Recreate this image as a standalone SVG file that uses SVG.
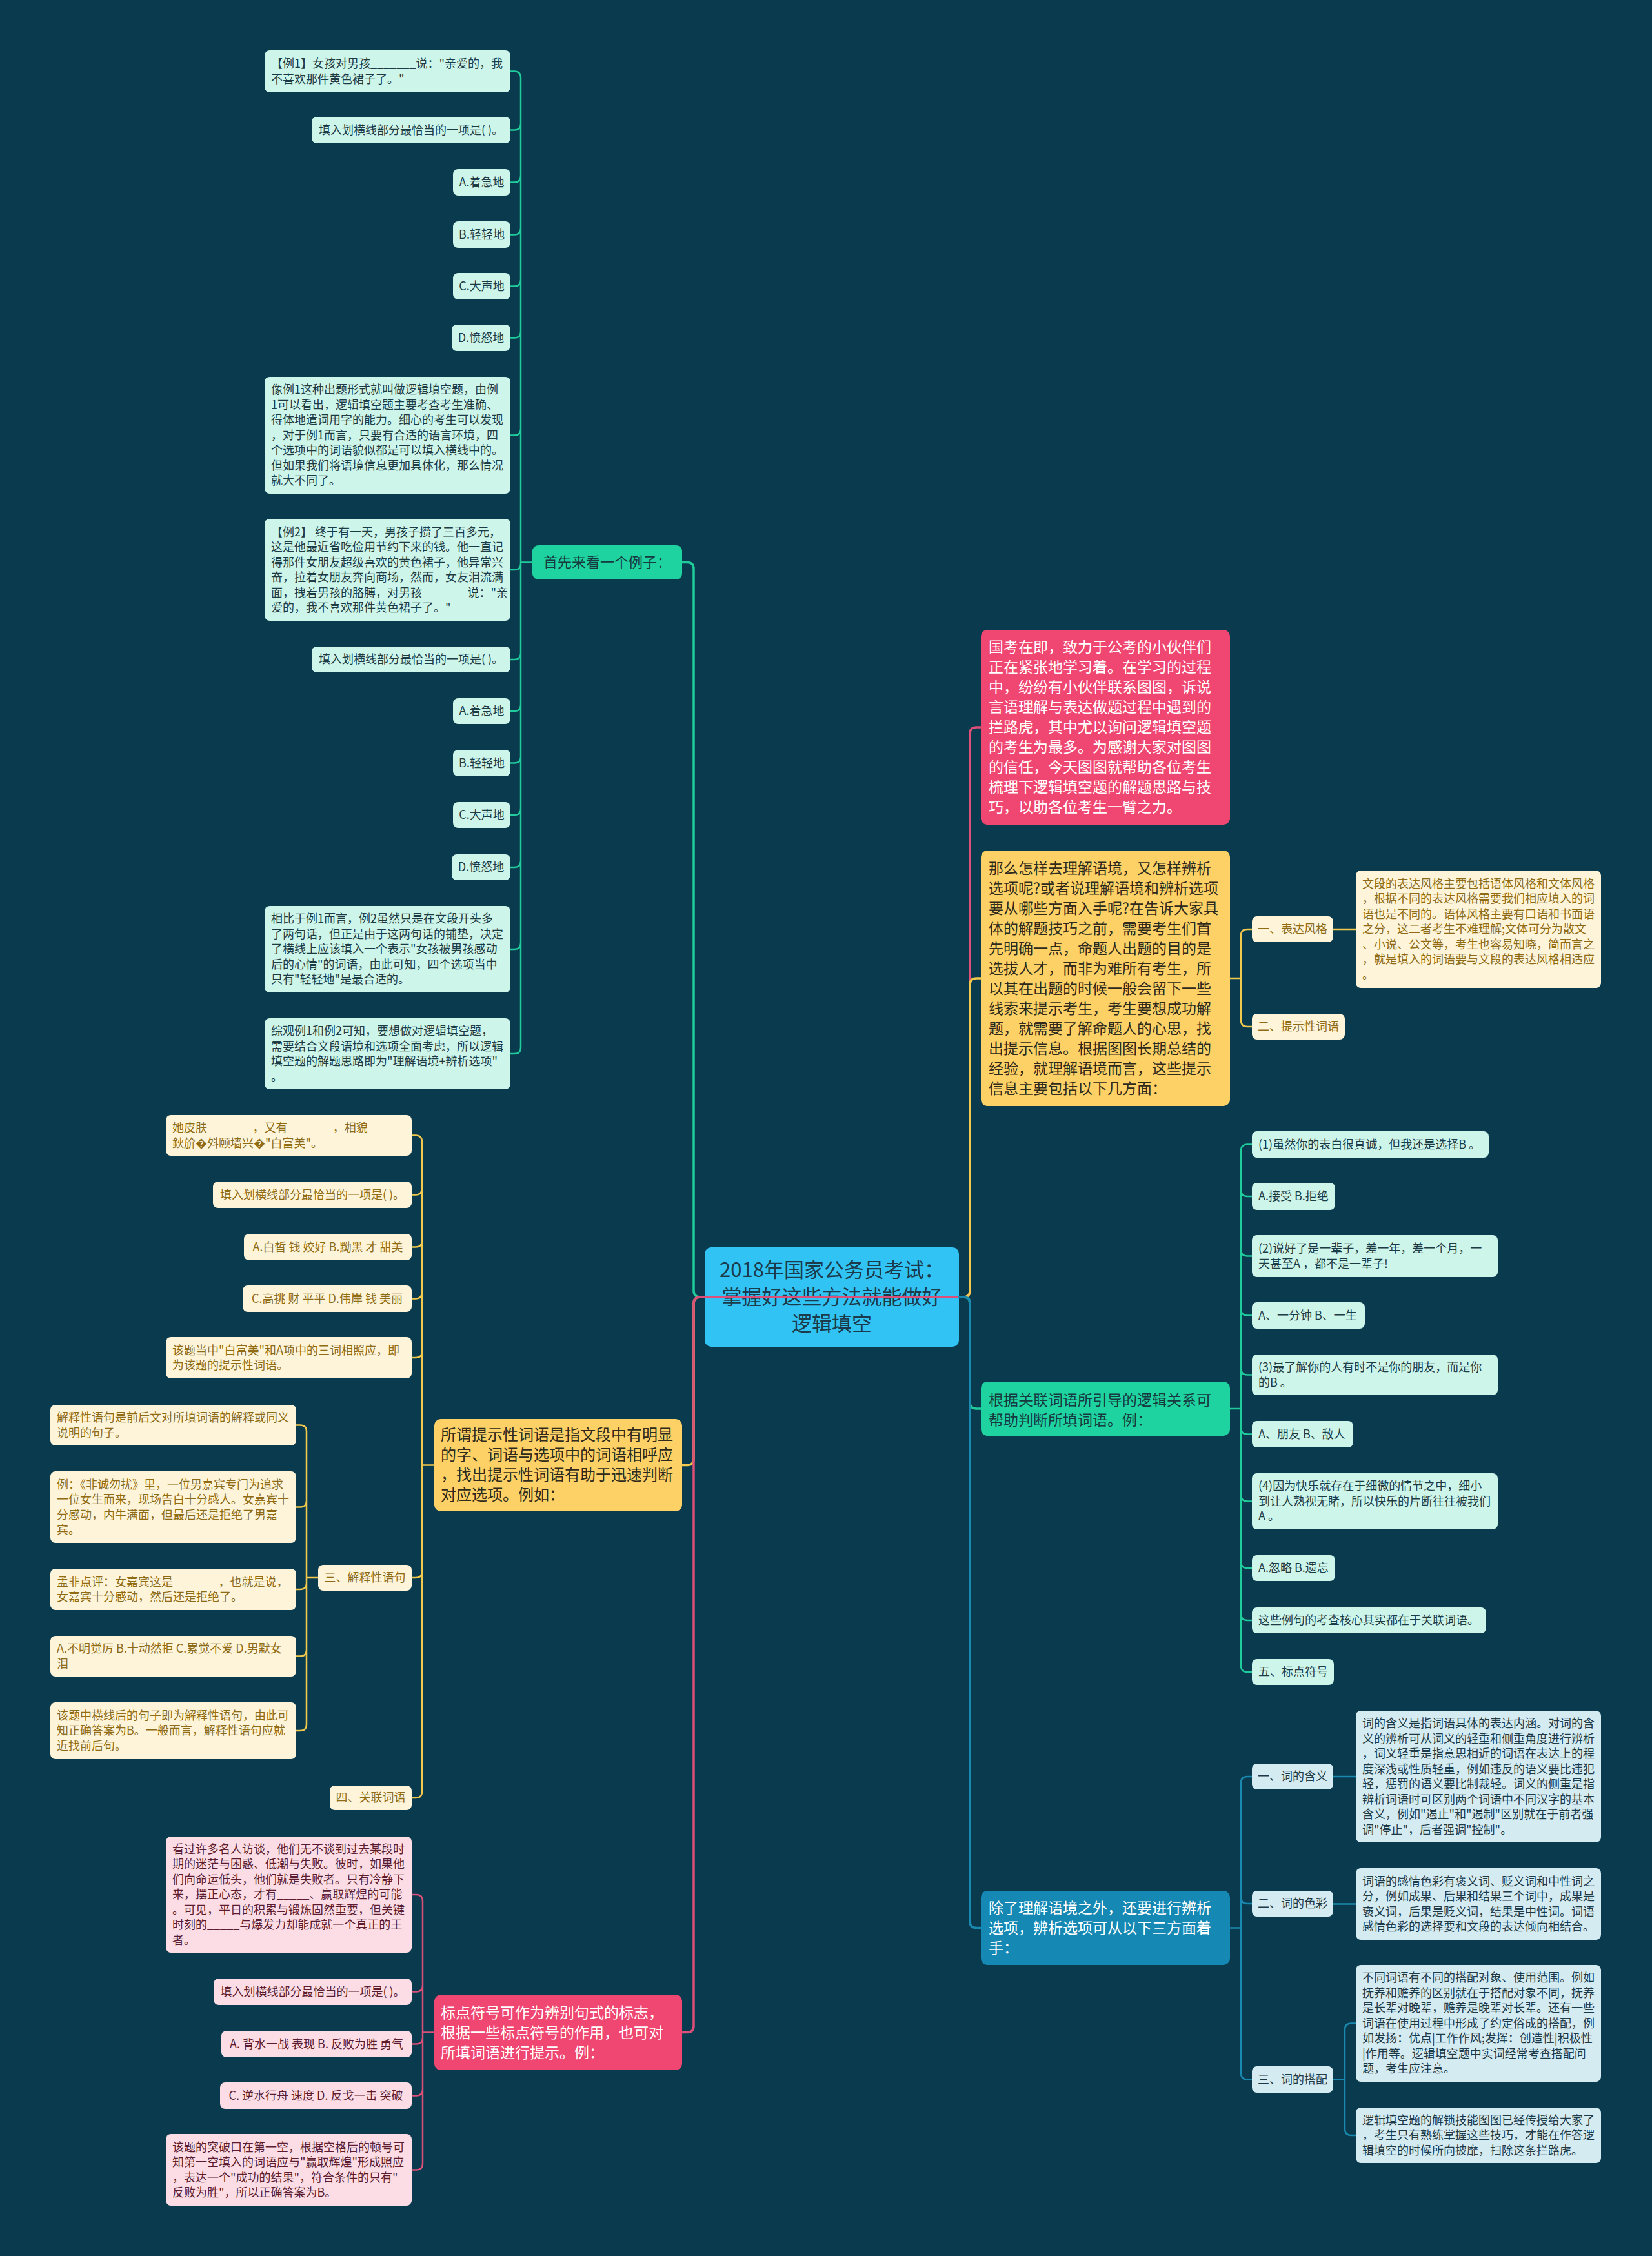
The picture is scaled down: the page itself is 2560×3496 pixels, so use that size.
<svg xmlns="http://www.w3.org/2000/svg" width="2560" height="3496" viewBox="0 0 2560 3496">
<style>
text{font-family:"Noto Sans CJK SC","Noto Sans",sans-serif;}
.bg{fill:#093a4e}
.c{fill:#31c3f3}
.tc{font-size:31px;fill:#1b3a4c}
.ng{fill:#cdf5ea}.tg{fill:#1d3b45}
.ny{fill:#fef4d9}.ty{fill:#8f6c14}
.np{fill:#fddde5}.tp{fill:#5c1c2f}
.nb{fill:#d4ebf2}.tb{fill:#1d3a48}
.s{font-size:18px}
.mg{fill:#1fd3a0}.my{fill:#fdd166}.mp{fill:#ef4771}.mb{fill:#1588b3}
.tm{font-size:23px}
.tw{fill:#ffffff}.tdy{fill:#2f2a1c}.tdg{fill:#173a40}
.k{fill:none;stroke-width:3.5;stroke-linecap:round}
.k2{fill:none;stroke-width:2.5;stroke-linecap:round}
.kg{stroke:#20cc9c}.ky{stroke:#f2c94c}.kp{stroke:#dc4f78}.kb{stroke:#1a89b0}
</style>
<rect class="bg" x="0" y="0" width="2560" height="3496"/>

<g id="center">
<rect x="1092" y="1933" width="394" height="154" rx="10" class="c"/>
<text class="tc" text-anchor="middle"><tspan x="1289" y="1979.4">2018年国家公务员考试：</tspan><tspan x="1289" y="2020.9">掌握好这些方法就能做好</tspan><tspan x="1289" y="2062.4">逻辑填空</tspan></text>
</g>

<g id="connectors">
<path class="k kg" d="M1092,2010 H1085 Q1075,2010 1075,2000 V881.5 Q1075,871.5 1065,871.5 H1057"/>
<path class="k ky" d="M1092,2010 H1085 Q1075,2010 1075,2020 V2260.5 Q1075,2270.5 1065,2270.5 H1057"/>
<path class="k kp" d="M1486,2010 H1085 Q1075,2010 1075,2020 V3139.5 Q1075,3149.5 1065,3149.5 H1057"/>
<path class="k kp" d="M1486,2010 H1493 Q1503,2010 1503,2000 V1137 Q1503,1127 1513,1127 H1520"/>
<path class="k ky" d="M1486,2010 H1493 Q1503,2010 1503,2000 V1526 Q1503,1516 1513,1516 H1520"/>
<path class="k kg" d="M1486,2010 H1493 Q1503,2010 1503,2020 V2173 Q1503,2183 1513,2183 H1520"/>
<path class="k kb" d="M1486,2010 H1493 Q1503,2010 1503,2020 V2977.5 Q1503,2987.5 1513,2987.5 H1520"/>

<path class="k2 kg" d="M807,120.5 V1623 M825,871.5 H807
M807,120.5 Q807,110.5 797,110.5 H791
M807,191.5 Q807,201.5 797,201.5 H791
M807,272.5 Q807,282.5 797,282.5 H791
M807,353.5 Q807,363.5 797,363.5 H791
M807,433.5 Q807,443.5 797,443.5 H791
M807,513.5 Q807,523.5 797,523.5 H791
M807,664.5 Q807,674.5 797,674.5 H791
M807,873 Q807,883 797,883 H791
M807,1012 Q807,1022 797,1022 H791
M807,1092 Q807,1102 797,1102 H791
M807,1172.5 Q807,1182.5 797,1182.5 H791
M807,1253 Q807,1263 797,1263 H791
M807,1334 Q807,1344 797,1344 H791
M807,1461 Q807,1471 797,1471 H791
M807,1623 Q807,1633 797,1633 H791"/>

<path class="k2 ky" d="M654,1769.5 V2776 M673,2270.5 H654
M654,1769.5 Q654,1759.5 644,1759.5 H638
M654,1841.5 Q654,1851.5 644,1851.5 H638
M654,1922.5 Q654,1932.5 644,1932.5 H638
M654,2002.5 Q654,2012.5 644,2012.5 H638
M654,2094 Q654,2104 644,2104 H638
M654,2435 Q654,2445 644,2445 H638
M654,2776 Q654,2786 644,2786 H638"/>
<path class="k2 ky" d="M475,2218.5 V2672 M493,2445 H475
M475,2218.5 Q475,2208.5 465,2208.5 H459
M475,2325.5 Q475,2335.5 465,2335.5 H459
M475,2453 Q475,2463 465,2463 H459
M475,2556.5 Q475,2566.5 465,2566.5 H459
M475,2672 Q475,2682 465,2682 H459"/>

<path class="k2 kp" d="M655,2946 V3352.5 M673,3149.5 H655
M655,2946 Q655,2936 645,2936 H638
M655,3076.5 Q655,3086.5 645,3086.5 H638
M655,3157.5 Q655,3167.5 645,3167.5 H638
M655,3237.5 Q655,3247.5 645,3247.5 H638
M655,3352.5 Q655,3362.5 645,3362.5 H638"/>

<path class="k2 ky" d="M1923,1450 V1581 M1906,1516 H1923
M1923,1450 Q1923,1440 1933,1440 H1940
M1923,1581 Q1923,1591 1933,1591 H1940
M2066,1440 H2101"/>

<path class="k2 kg" d="M1923,1783.5 V2581 M1906,2183 H1923
M1923,1783.5 Q1923,1773.5 1933,1773.5 H1940
M1923,1844 Q1923,1854 1933,1854 H1940
M1923,1936.5 Q1923,1946.5 1933,1946.5 H1940
M1923,2028.5 Q1923,2038.5 1933,2038.5 H1940
M1923,2120.5 Q1923,2130.5 1933,2130.5 H1940
M1923,2212.5 Q1923,2222.5 1933,2222.5 H1940
M1923,2316.5 Q1923,2326.5 1933,2326.5 H1940
M1923,2420 Q1923,2430 1933,2430 H1940
M1923,2501 Q1923,2511 1933,2511 H1940
M1923,2581 Q1923,2591 1933,2591 H1940"/>

<path class="k2 kb" d="M1923,2763 V3212.5 M1906,2987.5 H1923
M1923,2763 Q1923,2753 1933,2753 H1940
M1923,2940 Q1923,2950 1933,2950 H1940
M1923,3212.5 Q1923,3222.5 1933,3222.5 H1940
M2066,2753 H2101
M2066,2950.5 H2101
M2084,3145.5 V3299 M2066,3222.5 H2084
M2084,3145.5 Q2084,3135.5 2094,3135.5 H2101
M2084,3299 Q2084,3309 2094,3309 H2101"/>
</g>

<!-- left green -->
<g id="n-shouxian"><rect x="825" y="845" width="232" height="53" rx="9" class="mg"/><text x="941" y="879" text-anchor="middle" class="tdg" font-size="22">首先来看一个例子：</text></g>
<g id="g1"><rect x="410" y="78" width="381" height="65" rx="8" class="ng"/><text class="s tg"><tspan x="420" y="105">【例1】女孩对男孩_______说："亲爱的，我</tspan><tspan x="420" dy="23.5">不喜欢那件黄色裙子了。"</tspan></text></g>
<g id="g2"><rect x="483" y="181" width="308" height="41" rx="8" class="ng"/><text x="637" y="208" text-anchor="middle" class="s tg">填入划横线部分最恰当的一项是( )。</text></g>
<g id="g3"><rect x="702" y="262" width="89" height="41" rx="8" class="ng"/><text x="746.5" y="289" text-anchor="middle" class="s tg">A.着急地</text></g>
<g id="g4"><rect x="702" y="343" width="89" height="41" rx="8" class="ng"/><text x="746.5" y="370" text-anchor="middle" class="s tg">B.轻轻地</text></g>
<g id="g5"><rect x="702" y="423" width="89" height="41" rx="8" class="ng"/><text x="746.5" y="450" text-anchor="middle" class="s tg">C.大声地</text></g>
<g id="g6"><rect x="700" y="503" width="91" height="41" rx="8" class="ng"/><text x="745.5" y="530" text-anchor="middle" class="s tg">D.愤怒地</text></g>
<g id="g7"><rect x="410" y="584" width="381" height="181" rx="8" class="ng"/><text class="s tg"><tspan x="420" y="610.3">像例1这种出题形式就叫做逻辑填空题，由例</tspan><tspan x="420" dy="23.5">1可以看出，逻辑填空题主要考查考生准确、</tspan><tspan x="420" dy="23.5">得体地遣词用字的能力。细心的考生可以发现</tspan><tspan x="420" dy="23.5">，对于例1而言，只要有合适的语言环境，四</tspan><tspan x="420" dy="23.5">个选项中的词语貌似都是可以填入横线中的。</tspan><tspan x="420" dy="23.5">但如果我们将语境信息更加具体化，那么情况</tspan><tspan x="420" dy="23.5">就大不同了。</tspan></text></g>
<g id="g8"><rect x="410" y="804" width="381" height="158" rx="8" class="ng"/><text class="s tg"><tspan x="420" y="830.5">【例2】 终于有一天，男孩子攒了三百多元，</tspan><tspan x="420" dy="23.5">这是他最近省吃俭用节约下来的钱。他一直记</tspan><tspan x="420" dy="23.5">得那件女朋友超级喜欢的黄色裙子，他异常兴</tspan><tspan x="420" dy="23.5">奋，拉着女朋友奔向商场，然而，女友泪流满</tspan><tspan x="420" dy="23.5">面，拽着男孩的胳膊，对男孩_______说："亲</tspan><tspan x="420" dy="23.5">爱的，我不喜欢那件黄色裙子了。"</tspan></text></g>
<g id="g9"><rect x="483" y="1002" width="308" height="40" rx="8" class="ng"/><text x="637" y="1028.3" text-anchor="middle" class="s tg">填入划横线部分最恰当的一项是( )。</text></g>
<g id="g10"><rect x="702" y="1082" width="89" height="40" rx="8" class="ng"/><text x="746.5" y="1108.3" text-anchor="middle" class="s tg">A.着急地</text></g>
<g id="g11"><rect x="702" y="1162" width="89" height="41" rx="8" class="ng"/><text x="746.5" y="1188.8" text-anchor="middle" class="s tg">B.轻轻地</text></g>
<g id="g12"><rect x="702" y="1243" width="89" height="40" rx="8" class="ng"/><text x="746.5" y="1269.3" text-anchor="middle" class="s tg">C.大声地</text></g>
<g id="g13"><rect x="700" y="1324" width="91" height="40" rx="8" class="ng"/><text x="745.5" y="1350.3" text-anchor="middle" class="s tg">D.愤怒地</text></g>
<g id="g14"><rect x="410" y="1404" width="381" height="134" rx="8" class="ng"/><text class="s tg"><tspan x="420" y="1430.3">相比于例1而言，例2虽然只是在文段开头多</tspan><tspan x="420" dy="23.5">了两句话，但正是由于这两句话的铺垫，决定</tspan><tspan x="420" dy="23.5">了横线上应该填入一个表示"女孩被男孩感动</tspan><tspan x="420" dy="23.5">后的心情"的词语，由此可知，四个选项当中</tspan><tspan x="420" dy="23.5">只有"轻轻地"是最合适的。</tspan></text></g>
<g id="g15"><rect x="410" y="1578" width="381" height="110" rx="8" class="ng"/><text class="s tg"><tspan x="420" y="1604">综观例1和例2可知，要想做对逻辑填空题，</tspan><tspan x="420" dy="23.5">需要结合文段语境和选项全面考虑，所以逻辑</tspan><tspan x="420" dy="23.5">填空题的解题思路即为"理解语境+辨析选项"</tspan><tspan x="420" dy="23.5">。</tspan></text></g>

<!-- left yellow -->
<g id="n-tishi"><rect x="673" y="2199" width="384" height="143" rx="10" class="my"/><text class="tdy" font-size="24"><tspan x="683" y="2232.4">所谓提示性词语是指文段中有明显</tspan><tspan x="683" dy="31">的字、词语与选项中的词语相呼应</tspan><tspan x="683" dy="31">，找出提示性词语有助于迅速判断</tspan><tspan x="683" dy="31">对应选项。例如：</tspan></text></g>
<g id="y1"><rect x="257" y="1728" width="381" height="63" rx="8" class="ny"/><text class="s ty"><tspan x="267" y="1754">她皮肤_______，又有_______，相貌_______</tspan><tspan x="267" dy="23.5">鈥斺�斘颐墙兴�"白富美"。</tspan></text></g>
<g id="y2"><rect x="330" y="1831" width="308" height="41" rx="8" class="ny"/><text x="484" y="1857.8" text-anchor="middle" class="s ty">填入划横线部分最恰当的一项是( )。</text></g>
<g id="y3"><rect x="378" y="1912" width="260" height="41" rx="8" class="ny"/><text x="508" y="1938.8" text-anchor="middle" class="s ty">A.白皙 钱 姣好 B.黝黑 才 甜美</text></g>
<g id="y4"><rect x="376" y="1992" width="262" height="41" rx="8" class="ny"/><text x="507" y="2018.8" text-anchor="middle" class="s ty">C.高挑 财 平平 D.伟岸 钱 美丽</text></g>
<g id="y5"><rect x="257" y="2072" width="381" height="64" rx="8" class="ny"/><text class="s ty"><tspan x="267" y="2098.5">该题当中"白富美"和A项中的三词相照应，即</tspan><tspan x="267" dy="23.5">为该题的提示性词语。</tspan></text></g>
<g id="y6"><rect x="493" y="2425" width="145" height="40" rx="8" class="ny"/><text x="565.5" y="2451.3" text-anchor="middle" class="s ty">三、解释性语句</text></g>
<g id="y7"><rect x="511" y="2767" width="127" height="38" rx="8" class="ny"/><text x="574.5" y="2792.3" text-anchor="middle" class="s ty">四、关联词语</text></g>
<g id="y8"><rect x="78" y="2177" width="381" height="63" rx="8" class="ny"/><text class="s ty"><tspan x="88" y="2203">解释性语句是前后文对所填词语的解释或同义</tspan><tspan x="88" dy="23.5">说明的句子。</tspan></text></g>
<g id="y9"><rect x="78" y="2280" width="381" height="111" rx="8" class="ny"/><text class="s ty"><tspan x="88" y="2306.5">例：《非诚勿扰》里，一位男嘉宾专门为追求</tspan><tspan x="88" dy="23.5">一位女生而来，现场告白十分感人。女嘉宾十</tspan><tspan x="88" dy="23.5">分感动，内牛满面，但最后还是拒绝了男嘉</tspan><tspan x="88" dy="23.5">宾。</tspan></text></g>
<g id="y10"><rect x="78" y="2431" width="381" height="64" rx="8" class="ny"/><text class="s ty"><tspan x="88" y="2457.5">孟非点评：女嘉宾这是_______，也就是说，</tspan><tspan x="88" dy="23.5">女嘉宾十分感动，然后还是拒绝了。</tspan></text></g>
<g id="y11"><rect x="78" y="2535" width="381" height="63" rx="8" class="ny"/><text class="s ty"><tspan x="88" y="2561">A.不明觉厉 B.十动然拒 C.累觉不爱 D.男默女</tspan><tspan x="88" dy="23.5">泪</tspan></text></g>
<g id="y12"><rect x="78" y="2638" width="381" height="88" rx="8" class="ny"/><text class="s ty"><tspan x="88" y="2664.8">该题中横线后的句子即为解释性语句，由此可</tspan><tspan x="88" dy="23.5">知正确答案为B。一般而言，解释性语句应就</tspan><tspan x="88" dy="23.5">近找前后句。</tspan></text></g>

<!-- left pink -->
<g id="n-biaodian"><rect x="673" y="3091" width="384" height="117" rx="10" class="mp"/><text class="tm tw"><tspan x="683" y="3126.5">标点符号可作为辨别句式的标志，</tspan><tspan x="683" dy="31">根据一些标点符号的作用，也可对</tspan><tspan x="683" dy="31">所填词语进行提示。例：</tspan></text></g>
<g id="p1"><rect x="257" y="2846" width="381" height="180" rx="8" class="np"/><text class="s tp"><tspan x="267" y="2871.8">看过许多名人访谈，他们无不谈到过去某段时</tspan><tspan x="267" dy="23.5">期的迷茫与困惑、低潮与失败。彼时，如果他</tspan><tspan x="267" dy="23.5">们向命运低头，他们就是失败者。只有冷静下</tspan><tspan x="267" dy="23.5">来，摆正心态，才有_____、赢取辉煌的可能</tspan><tspan x="267" dy="23.5">。可见，平日的积累与锻炼固然重要，但关键</tspan><tspan x="267" dy="23.5">时刻的_____与爆发力却能成就一个真正的王</tspan><tspan x="267" dy="23.5">者。</tspan></text></g>
<g id="p2"><rect x="331" y="3066" width="307" height="41" rx="8" class="np"/><text x="484.5" y="3092.8" text-anchor="middle" class="s tp">填入划横线部分最恰当的一项是( )。</text></g>
<g id="p3"><rect x="343" y="3147" width="295" height="41" rx="8" class="np"/><text x="490.5" y="3173.8" text-anchor="middle" class="s tp">A. 背水一战 表现 B. 反败为胜 勇气</text></g>
<g id="p4"><rect x="341" y="3227" width="297" height="41" rx="8" class="np"/><text x="489.5" y="3253.8" text-anchor="middle" class="s tp">C. 逆水行舟 速度 D. 反戈一击 突破</text></g>
<g id="p5"><rect x="257" y="3307" width="381" height="111" rx="8" class="np"/><text class="s tp"><tspan x="267" y="3333.5">该题的突破口在第一空，根据空格后的顿号可</tspan><tspan x="267" dy="23.5">知第一空填入的词语应与"赢取辉煌"形成照应</tspan><tspan x="267" dy="23.5">，表达一个"成功的结果"，符合条件的只有"</tspan><tspan x="267" dy="23.5">反败为胜"，所以正确答案为B。</tspan></text></g>

<!-- right -->
<g id="n-intro"><rect x="1520" y="976" width="386" height="302" rx="10" class="mp"/><text class="tm tw"><tspan x="1532" y="1011">国考在即，致力于公考的小伙伴们</tspan><tspan x="1532" dy="31">正在紧张地学习着。在学习的过程</tspan><tspan x="1532" dy="31">中，纷纷有小伙伴联系图图，诉说</tspan><tspan x="1532" dy="31">言语理解与表达做题过程中遇到的</tspan><tspan x="1532" dy="31">拦路虎，其中尤以询问逻辑填空题</tspan><tspan x="1532" dy="31">的考生为最多。为感谢大家对图图</tspan><tspan x="1532" dy="31">的信任，今天图图就帮助各位考生</tspan><tspan x="1532" dy="31">梳理下逻辑填空题的解题思路与技</tspan><tspan x="1532" dy="31">巧，以助各位考生一臂之力。</tspan></text></g>
<g id="n-yujing"><rect x="1520" y="1318" width="386" height="396" rx="10" class="my"/><text class="tm tdy"><tspan x="1532" y="1353.5">那么怎样去理解语境，又怎样辨析</tspan><tspan x="1532" dy="31">选项呢?或者说理解语境和辨析选项</tspan><tspan x="1532" dy="31">要从哪些方面入手呢?在告诉大家具</tspan><tspan x="1532" dy="31">体的解题技巧之前，需要考生们首</tspan><tspan x="1532" dy="31">先明确一点，命题人出题的目的是</tspan><tspan x="1532" dy="31">选拔人才，而非为难所有考生，所</tspan><tspan x="1532" dy="31">以其在出题的时候一般会留下一些</tspan><tspan x="1532" dy="31">线索来提示考生，考生要想成功解</tspan><tspan x="1532" dy="31">题，就需要了解命题人的心思，找</tspan><tspan x="1532" dy="31">出提示信息。根据图图长期总结的</tspan><tspan x="1532" dy="31">经验，就理解语境而言，这些提示</tspan><tspan x="1532" dy="31">信息主要包括以下几方面：</tspan></text></g>
<g id="ry1"><rect x="1940" y="1420" width="126" height="40" rx="8" class="ny"/><text x="2003" y="1446.3" text-anchor="middle" class="s ty">一、表达风格</text></g>
<g id="ry2"><rect x="1940" y="1571" width="144" height="40" rx="8" class="ny"/><text x="2012" y="1597.3" text-anchor="middle" class="s ty">二、提示性词语</text></g>
<g id="ry3"><rect x="2101" y="1349" width="380" height="182" rx="8" class="ny"/><text class="s ty"><tspan x="2111" y="1375.8">文段的表达风格主要包括语体风格和文体风格</tspan><tspan x="2111" dy="23.5">，根据不同的表达风格需要我们相应填入的词</tspan><tspan x="2111" dy="23.5">语也是不同的。语体风格主要有口语和书面语</tspan><tspan x="2111" dy="23.5">之分，这二者考生不难理解;文体可分为散文</tspan><tspan x="2111" dy="23.5">、小说、公文等，考生也容易知晓，简而言之</tspan><tspan x="2111" dy="23.5">，就是填入的词语要与文段的表达风格相适应</tspan><tspan x="2111" dy="23.5">。</tspan></text></g>

<g id="n-guanlian"><rect x="1520" y="2141" width="386" height="84" rx="10" class="mg"/><text class="tm tdg"><tspan x="1532" y="2177.5">根据关联词语所引导的逻辑关系可</tspan><tspan x="1532" dy="31">帮助判断所填词语。例：</tspan></text></g>
<g id="rg1"><rect x="1940" y="1753" width="367" height="41" rx="8" class="ng"/><text x="1950" y="1779.8" class="s tg">(1)虽然你的表白很真诚，但我还是选择B 。</text></g>
<g id="rg2"><rect x="1940" y="1833" width="129" height="42" rx="8" class="ng"/><text x="1950" y="1860.3" class="s tg">A.接受 B.拒绝</text></g>
<g id="rg3"><rect x="1940" y="1914" width="381" height="65" rx="8" class="ng"/><text class="s tg"><tspan x="1950" y="1941">(2)说好了是一辈子，差一年，差一个月，一</tspan><tspan x="1950" dy="23.5">天甚至A ，都不是一辈子!</tspan></text></g>
<g id="rg4"><rect x="1940" y="2018" width="175" height="41" rx="8" class="ng"/><text x="1950" y="2044.8" class="s tg">A、一分钟 B、一生</text></g>
<g id="rg5"><rect x="1940" y="2099" width="381" height="63" rx="8" class="ng"/><text class="s tg"><tspan x="1950" y="2125">(3)最了解你的人有时不是你的朋友，而是你</tspan><tspan x="1950" dy="23.5">的B 。</tspan></text></g>
<g id="rg6"><rect x="1940" y="2202" width="157" height="41" rx="8" class="ng"/><text x="1950" y="2228.8" class="s tg">A、朋友 B、敌人</text></g>
<g id="rg7"><rect x="1940" y="2283" width="381" height="87" rx="8" class="ng"/><text class="s tg"><tspan x="1950" y="2309.3">(4)因为快乐就存在于细微的情节之中，细小</tspan><tspan x="1950" dy="23.5">到让人熟视无睹，所以快乐的片断往往被我们</tspan><tspan x="1950" dy="23.5">A 。</tspan></text></g>
<g id="rg8"><rect x="1940" y="2410" width="129" height="40" rx="8" class="ng"/><text x="1950" y="2436.3" class="s tg">A.忽略 B.遗忘</text></g>
<g id="rg9"><rect x="1940" y="2491" width="363" height="40" rx="8" class="ng"/><text x="1950" y="2517.3" class="s tg">这些例句的考查核心其实都在于关联词语。</text></g>
<g id="rg10"><rect x="1940" y="2571" width="127" height="40" rx="8" class="ng"/><text x="1950" y="2597.3" class="s tg">五、标点符号</text></g>

<g id="n-bianxi"><rect x="1520" y="2930" width="386" height="115" rx="10" class="mb"/><text class="tm tw"><tspan x="1532" y="2964.5">除了理解语境之外，还要进行辨析</tspan><tspan x="1532" dy="31">选项，辨析选项可从以下三方面着</tspan><tspan x="1532" dy="31">手：</tspan></text></g>
<g id="rb1"><rect x="1940" y="2733" width="126" height="40" rx="8" class="nb"/><text x="2003" y="2759.3" text-anchor="middle" class="s tb">一、词的含义</text></g>
<g id="rb2"><rect x="1940" y="2930" width="126" height="40" rx="8" class="nb"/><text x="2003" y="2956.3" text-anchor="middle" class="s tb">二、词的色彩</text></g>
<g id="rb3"><rect x="1940" y="3202" width="126" height="41" rx="8" class="nb"/><text x="2003" y="3228.8" text-anchor="middle" class="s tb">三、词的搭配</text></g>
<g id="rb4"><rect x="2101" y="2651" width="380" height="204" rx="8" class="nb"/><text class="s tb"><tspan x="2111" y="2677">词的含义是指词语具体的表达内涵。对词的含</tspan><tspan x="2111" dy="23.5">义的辨析可从词义的轻重和侧重角度进行辨析</tspan><tspan x="2111" dy="23.5">，词义轻重是指意思相近的词语在表达上的程</tspan><tspan x="2111" dy="23.5">度深浅或性质轻重，例如违反的语义要比违犯</tspan><tspan x="2111" dy="23.5">轻，惩罚的语义要比制裁轻。词义的侧重是指</tspan><tspan x="2111" dy="23.5">辨析词语时可区别两个词语中不同汉字的基本</tspan><tspan x="2111" dy="23.5">含义，例如"遏止"和"遏制"区别就在于前者强</tspan><tspan x="2111" dy="23.5">调"停止"，后者强调"控制"。</tspan></text></g>
<g id="rb5"><rect x="2101" y="2895" width="380" height="111" rx="8" class="nb"/><text class="s tb"><tspan x="2111" y="2921.5">词语的感情色彩有褒义词、贬义词和中性词之</tspan><tspan x="2111" dy="23.5">分，例如成果、后果和结果三个词中，成果是</tspan><tspan x="2111" dy="23.5">褒义词，后果是贬义词，结果是中性词。词语</tspan><tspan x="2111" dy="23.5">感情色彩的选择要和文段的表达倾向相结合。</tspan></text></g>
<g id="rb6"><rect x="2101" y="3045" width="380" height="181" rx="8" class="nb"/><text class="s tb"><tspan x="2111" y="3071.3">不同词语有不同的搭配对象、使用范围。例如</tspan><tspan x="2111" dy="23.5">抚养和赡养的区别就在于搭配对象不同，抚养</tspan><tspan x="2111" dy="23.5">是长辈对晚辈，赡养是晚辈对长辈。还有一些</tspan><tspan x="2111" dy="23.5">词语在使用过程中形成了约定俗成的搭配，例</tspan><tspan x="2111" dy="23.5">如发扬：优点|工作作风;发挥：创造性|积极性</tspan><tspan x="2111" dy="23.5">|作用等。逻辑填空题中实词经常考查搭配问</tspan><tspan x="2111" dy="23.5">题，考生应注意。</tspan></text></g>
<g id="rb7"><rect x="2101" y="3266" width="380" height="86" rx="8" class="nb"/><text class="s tb"><tspan x="2111" y="3291.8">逻辑填空题的解锁技能图图已经传授给大家了</tspan><tspan x="2111" dy="23.5">，考生只有熟练掌握这些技巧，才能在作答逻</tspan><tspan x="2111" dy="23.5">辑填空的时候所向披靡，扫除这条拦路虎。</tspan></text></g>
</svg>
